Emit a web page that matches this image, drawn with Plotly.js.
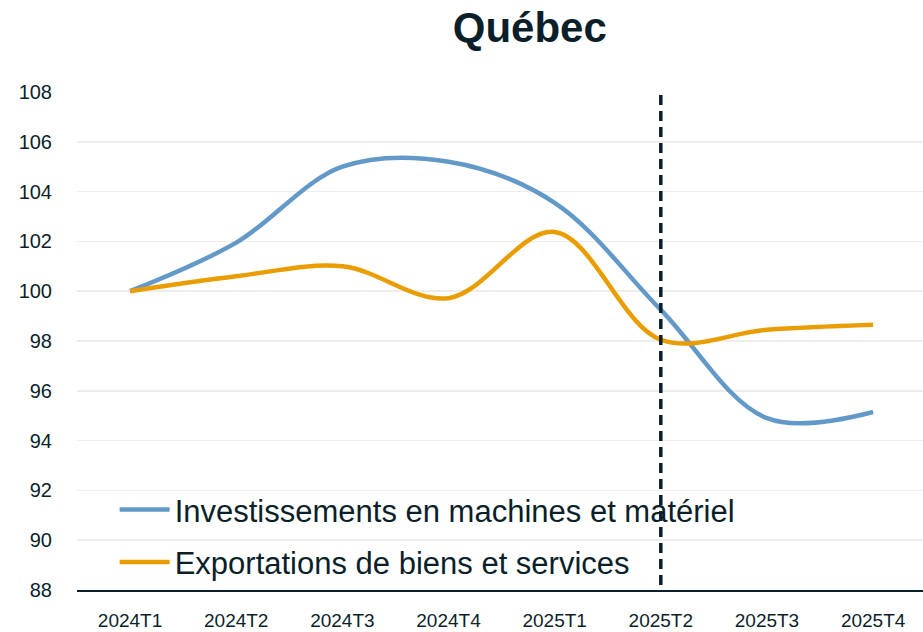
<!DOCTYPE html>
<html><head><meta charset="utf-8">
<script src="https://cdn.plot.ly/plotly-3.0.1.min.js"></script>
<style>html,body{margin:0;padding:0;background:#fff}#chart{width:923px;height:632px}</style>
</head><body><div id="chart"></div>
<script>
const categories = ['2024T1','2024T2','2024T3','2024T4','2025T1','2025T2','2025T3','2025T4'];
const investissements = [100.0, 101.95, 105.0, 105.2, 103.55, 99.25, 94.9, 95.15];
const exportations = [100.0, 100.6, 101.0, 99.72, 102.38, 98.05, 98.45, 98.65];
const seriesNames = ['Investissements en machines et matériel', 'Exportations de biens et services'];
const markerCategory = '2025T2';
const yTicks = [88,90,92,94,96,98,100,102,104,106,108];

const txt = '#0B1F2A';
const fam = 'Liberation Sans, Arial, sans-serif';
const data = [
  {x: categories, y: investissements, name: seriesNames[0], legendgroup: 'a', type: 'scatter', mode: 'lines',
   line: {color: '#6399C8', width: 4.5, shape: 'spline', smoothing: 1}},
  {x: categories, y: exportations, name: seriesNames[1], legendgroup: 'b', type: 'scatter', mode: 'lines',
   line: {color: '#E99D00', width: 4.5, shape: 'spline', smoothing: 1}}
];
const layout = {
  width: 923, height: 632,
  margin: {l: 77, r: 0, t: 92, b: 42},
  paper_bgcolor: '#fff', plot_bgcolor: '#fff',
  title: {text: '<b>Québec</b>', x: 0.574, xanchor: 'center', y: 0.957, yanchor: 'middle',
          font: {family: fam, size: 42, color: txt}},
  xaxis: {type: 'category', range: [-0.5, 7.47], showgrid: false, zeroline: false,
          showline: true, linecolor: txt, linewidth: 2, ticks: '', ticklen: 0, ticklabelstandoff: 12,
          tickfont: {family: fam, size: 19, color: txt}},
  yaxis: {range: [88, 108], tickvals: yTicks, showgrid: true, gridcolor: '#EDEDED', gridwidth: 1.5,
          zeroline: false, showline: false, ticks: '', ticklabelstandoff: 24,
          tickfont: {family: fam, size: 20, color: txt}},
  shapes: [{type: 'line', xref: 'x', yref: 'paper', x0: markerCategory, x1: markerCategory, y0: 0.01, y1: 1,
            line: {color: txt, width: 3.5, dash: '10px,6px'}}],
  showlegend: true,
  legend: {x: 0.0445, xanchor: 'left', y: 0.215, yanchor: 'top', bgcolor: 'rgba(0,0,0,0)',
           font: {family: fam, size: 31, color: txt}, traceorder: 'grouped',
           tracegroupgap: 9, itemwidth: 50}
};
Plotly.newPlot('chart', data, layout, {displayModeBar: false, staticPlot: true});
</script></body></html>
